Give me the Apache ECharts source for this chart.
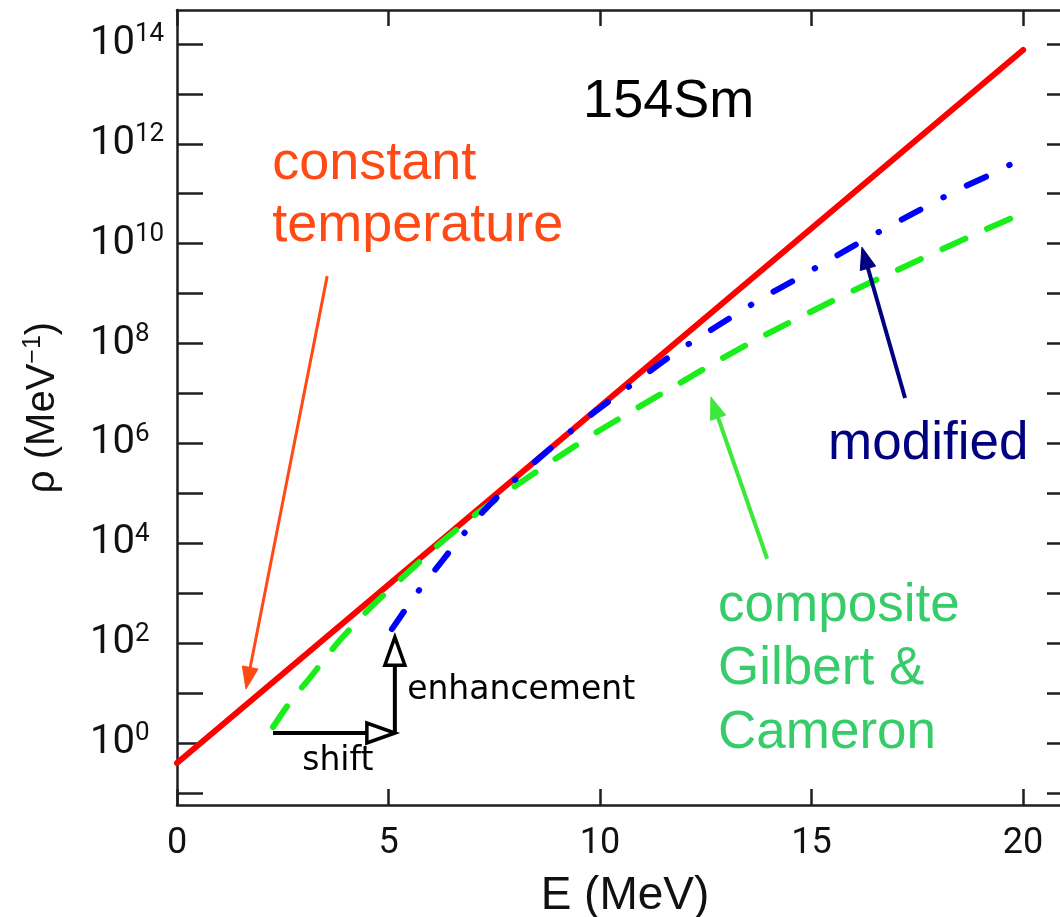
<!DOCTYPE html>
<html>
<head>
<meta charset="utf-8">
<title>154Sm level density</title>
<script src="https://cdn.jsdelivr.net/npm/echarts@6/dist/echarts.min.js"></script>
<style>
  html, body { margin: 0; padding: 0; background: #ffffff; }
  #chart { width: 1060px; height: 917px; }
</style>
</head>
<body>
<div id="chart"></div>
<script>
// Level density of 154Sm, log10(rho / MeV^-1) versus excitation energy E (MeV)

// constant temperature model
const ctEnergy = [0, 5, 10, 15, 20];
const ctLogRho = [-0.40, 3.17, 6.74, 10.31, 13.88];

// composite Gilbert & Cameron
const gcEnergy = [2.27, 2.46, 2.74, 3.10, 3.81, 4.56, 5.39, 6.22, 7.00, 7.80, 8.98, 9.93,
                  10.92, 11.89, 12.90, 13.90, 15.96, 17.02, 18.09, 19.13, 20.00];
const gcLogRho = [0.32, 0.56, 0.90, 1.26, 2.02, 2.70, 3.36, 4.00, 4.54, 5.03, 5.71, 6.23,
                  6.73, 7.21, 7.71, 8.17, 9.05, 9.47, 9.89, 10.29, 10.61];

// modified (shifted and enhanced) level density
const modEnergy = [5.08, 5.67, 6.29, 6.67, 7.23, 7.80, 8.50, 9.72, 10.38, 11.06, 11.73, 12.43,
                   13.24, 13.85, 14.66, 15.39, 16.19, 16.93, 17.68, 18.46, 19.27, 20.00];
const modLogRho = [2.28, 3.00, 3.67, 4.08, 4.63, 5.12, 5.66, 6.53, 6.95, 7.37, 7.79, 8.17,
                   8.60, 8.92, 9.30, 9.66, 10.05, 10.39, 10.73, 11.08, 11.40, 11.72];

// axis ticks
const xTicks = [0, 5, 10, 15, 20];
const yTickDecades = [-1, 0, 1, 2, 3, 4, 5, 6, 7, 8, 9, 10, 11, 12, 13, 14];
const yLabelDecades = [0, 2, 4, 6, 8, 10, 12, 14];

const pairs = (xs, ys) => xs.map((x, i) => [x, ys[i]]);

const NARROW = '"Liberation Sans Narrow", Roboto, "DejaVu Sans Condensed", sans-serif';
const SANS = '"Liberation Sans", Arial, sans-serif';
const AXIS_COLOR = '#1e1e1e';

const X_MIN = 0, X_MAX = 21.18;
const Y_MIN = -1.242, Y_MAX = 14.68;

const chart = echarts.init(document.getElementById('chart'), null, { renderer: 'canvas' });

const xBase = {
  type: 'value', min: X_MIN, max: X_MAX,
  axisLine: { show: true, onZero: false, lineStyle: { color: AXIS_COLOR, width: 2.5 } },
  axisTick: { show: true, inside: true, length: 16, customValues: xTicks,
              lineStyle: { color: AXIS_COLOR, width: 2.5 } },
  splitLine: { show: false }
};
const yBase = {
  type: 'value', min: Y_MIN, max: Y_MAX,
  axisLine: { show: true, onZero: false, lineStyle: { color: AXIS_COLOR, width: 2.5 } },
  axisTick: { show: true, inside: true, length: 26, customValues: yTickDecades,
              lineStyle: { color: AXIS_COLOR, width: 2.5 } },
  splitLine: { show: false }
};

const option = {
  backgroundColor: '#ffffff',
  animation: false,
  grid: { left: 177, right: -13, top: 10, bottom: 112, containLabel: false, outerBoundsMode: 'none' },
  xAxis: [
    Object.assign({}, xBase, {
      position: 'bottom',
      name: 'E (MeV)', nameLocation: 'middle', nameGap: 68,
      nameTextStyle: { fontFamily: SANS, fontSize: 46, color: '#111', lineHeight: 46 },
      axisLabel: {
        show: true, customValues: xTicks, margin: 21,
        fontFamily: NARROW, fontSize: 36, lineHeight: 36, color: '#111'
      }
    }),
    Object.assign({}, xBase, { position: 'top', axisLabel: { show: false } })
  ],
  yAxis: [
    Object.assign({}, yBase, {
      position: 'left',
      name: '{n|ρ (MeV}{s|−1}{n|)}', nameLocation: 'middle', nameGap: 112,
      nameTextStyle: {
        color: '#111',
        rich: {
          n: { fontFamily: SANS, fontSize: 40, lineHeight: 44, color: '#111' },
          s: { fontFamily: SANS, fontSize: 25, lineHeight: 26, verticalAlign: 'top', color: '#111' }
        }
      },
      axisLabel: {
        show: true, customValues: yLabelDecades, margin: 87, align: 'left',
        formatter: v => '{b|10}{s|' + Math.round(v) + '}',
        rich: {
          b: { fontFamily: NARROW, fontSize: 40, lineHeight: 44, color: '#111' },
          s: { fontFamily: NARROW, fontSize: 26, lineHeight: 26, verticalAlign: 'top', color: '#111' }
        }
      }
    }),
    Object.assign({}, yBase, { position: 'right', axisLabel: { show: false } })
  ],
  series: [
    {
      name: 'constant temperature', type: 'line', xAxisIndex: 0, yAxisIndex: 0,
      data: pairs(ctEnergy, ctLogRho), showSymbol: false, symbol: 'none', z: 3,
      lineStyle: { color: '#ff0000', width: 6, cap: 'round' }
    },
    {
      name: 'composite Gilbert & Cameron', type: 'line', xAxisIndex: 0, yAxisIndex: 0,
      data: pairs(gcEnergy, gcLogRho), showSymbol: false, symbol: 'none', z: 4,
      smooth: 0.2,
      lineStyle: { color: '#1aee1a', width: 6, cap: 'round', type: [25, 24] }
    },
    {
      name: 'modified', type: 'line', xAxisIndex: 0, yAxisIndex: 0,
      data: pairs(modEnergy, modLogRho), showSymbol: false, symbol: 'none', z: 5,
      smooth: 0.2,
      lineStyle: { color: '#0000ff', width: 6, cap: 'round', type: [21, 26, 0.5, 26] }
    }
  ]
};

chart.setOption(option);

// ---- annotations, anchored in (E, log10 rho) coordinates ----
const toPx = p => chart.convertToPixel({ seriesIndex: 0 }, p);

const notes = [
  { text: '154Sm', at: [9.60, 12.84], color: '#000000', size: 54 },
  { text: 'constant', at: [2.25, 11.60], color: '#ff4a16', size: 54 },
  { text: 'temperature', at: [2.25, 10.35], color: '#ff4a16', size: 54 },
  { text: 'modified', at: [15.39, 5.98], color: '#000080', size: 53 },
  { text: 'composite', at: [12.79, 2.74], color: '#36cc6a', size: 53 },
  { text: 'Gilbert &', at: [12.79, 1.48], color: '#36cc6a', size: 53 },
  { text: 'Cameron', at: [12.79, 0.20], color: '#36cc6a', size: 53 },
  { text: 'enhancement', at: [5.44, 1.05], color: '#000000', size: 33, family: '"DejaVu Sans", sans-serif' },
  { text: 'shift', at: [2.96, -0.37], color: '#000000', size: 33, family: '"DejaVu Sans", sans-serif' }
];

const arrows = [
  { from: [3.55, 9.35], to: [1.63, 1.08], color: '#ff4a16', width: 3, head: 22, half: 8, open: false },
  { from: [17.21, 6.91], to: [16.19, 9.93], color: '#000080', width: 4, head: 22, half: 8, open: false },
  { from: [13.95, 3.69], to: [12.62, 6.93], color: '#3de83a', width: 4, head: 22, half: 8, open: false },
  { from: [2.27, 0.20], to: [5.15, 0.20], color: '#000000', width: 4, head: 28, half: 10, open: true },
  { from: [5.15, 0.20], to: [5.15, 2.12], color: '#000000', width: 4, head: 28, half: 10, open: true }
];

const graphics = [];

notes.forEach(n => {
  const p = toPx(n.at);
  graphics.push({
    type: 'text', x: p[0], y: p[1], z: 50,
    style: {
      text: n.text, fill: n.color,
      fontSize: n.size, fontFamily: n.family || SANS,
      align: 'left', verticalAlign: 'middle',
      textAlign: 'left', textVerticalAlign: 'middle'
    }
  });
});

arrows.forEach(a => {
  const p0 = toPx(a.from), p1 = toPx(a.to);
  const dx = p1[0] - p0[0], dy = p1[1] - p0[1];
  const len = Math.hypot(dx, dy);
  const ux = dx / len, uy = dy / len;
  const nx = -uy, ny = ux;
  const bx = p1[0] - ux * a.head, by = p1[1] - uy * a.head;
  graphics.push({
    type: 'line', z: 40,
    shape: { x1: p0[0], y1: p0[1], x2: bx, y2: by },
    style: { stroke: a.color, lineWidth: a.width }
  });
  graphics.push({
    type: 'polygon', z: 41,
    shape: { points: [[p1[0], p1[1]], [bx + nx * a.half, by + ny * a.half], [bx - nx * a.half, by - ny * a.half]] },
    style: a.open
      ? { fill: '#ffffff', stroke: a.color, lineWidth: 3.5, lineJoin: 'miter' }
      : { fill: a.color, stroke: a.color, lineWidth: 1 }
  });
});

chart.setOption({ graphic: { elements: graphics } });
</script>
</body>
</html>
